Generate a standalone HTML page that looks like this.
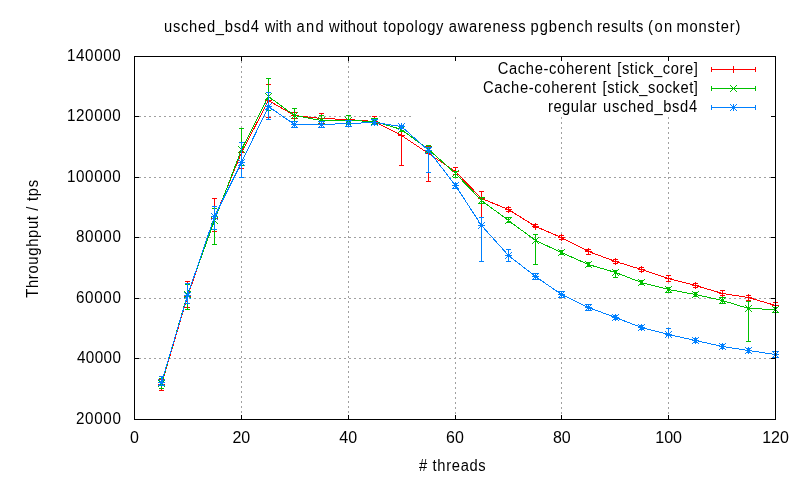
<!DOCTYPE html>
<html><head><meta charset="utf-8"><style>html,body{margin:0;padding:0;background:#fff;width:800px;height:480px;overflow:hidden}</style></head>
<body><svg width="800" height="480" viewBox="0 0 800 480" style="display:block;will-change:transform"><line x1="139" y1="358.5" x2="771" y2="358.5" stroke="#a0a0a0" stroke-dasharray="2 3"/>
<line x1="139" y1="298.5" x2="771" y2="298.5" stroke="#a0a0a0" stroke-dasharray="2 3"/>
<line x1="139" y1="237.5" x2="771" y2="237.5" stroke="#a0a0a0" stroke-dasharray="2 3"/>
<line x1="139" y1="177.5" x2="771" y2="177.5" stroke="#a0a0a0" stroke-dasharray="2 3"/>
<line x1="139" y1="116.5" x2="412" y2="116.5" stroke="#a0a0a0" stroke-dasharray="2 3"/>
<line x1="241.5" y1="61" x2="241.5" y2="415" stroke="#a0a0a0" stroke-dasharray="2 3"/>
<line x1="348.5" y1="61" x2="348.5" y2="415" stroke="#a0a0a0" stroke-dasharray="2 3"/>
<line x1="455.5" y1="117" x2="455.5" y2="415" stroke="#a0a0a0" stroke-dasharray="2 3"/>
<line x1="561.5" y1="117" x2="561.5" y2="415" stroke="#a0a0a0" stroke-dasharray="2 3"/>
<line x1="668.5" y1="117" x2="668.5" y2="415" stroke="#a0a0a0" stroke-dasharray="2 3"/>
<text transform="translate(75.95,424) scale(0.95,1)" letter-spacing="0.697" font-family="Liberation Sans, sans-serif" font-size="16">20000</text>
<text transform="translate(76.90,363) scale(0.95,1)" letter-spacing="0.447" font-family="Liberation Sans, sans-serif" font-size="16">40000</text>
<text transform="translate(75.95,303) scale(0.95,1)" letter-spacing="0.697" font-family="Liberation Sans, sans-serif" font-size="16">60000</text>
<text transform="translate(75.95,242) scale(0.95,1)" letter-spacing="0.697" font-family="Liberation Sans, sans-serif" font-size="16">80000</text>
<text transform="translate(66.95,182) scale(0.95,1)" letter-spacing="0.653" font-family="Liberation Sans, sans-serif" font-size="16">100000</text>
<text transform="translate(66.95,121) scale(0.95,1)" letter-spacing="0.653" font-family="Liberation Sans, sans-serif" font-size="16">120000</text>
<text transform="translate(66.95,61) scale(0.95,1)" letter-spacing="0.653" font-family="Liberation Sans, sans-serif" font-size="16">140000</text>
<text x="134.5" y="443" text-anchor="middle" font-family="Liberation Sans, sans-serif" font-size="16">0</text>
<text x="241.33333333333331" y="443" text-anchor="middle" font-family="Liberation Sans, sans-serif" font-size="16">20</text>
<text x="348.16666666666663" y="443" text-anchor="middle" font-family="Liberation Sans, sans-serif" font-size="16">40</text>
<text x="455.0" y="443" text-anchor="middle" font-family="Liberation Sans, sans-serif" font-size="16">60</text>
<text x="561.8333333333333" y="443" text-anchor="middle" font-family="Liberation Sans, sans-serif" font-size="16">80</text>
<text x="668.6666666666666" y="443" text-anchor="middle" font-family="Liberation Sans, sans-serif" font-size="16">100</text>
<text x="775.5" y="443" text-anchor="middle" font-family="Liberation Sans, sans-serif" font-size="16">120</text>
<text transform="translate(163.98,32) scale(0.92,1)" letter-spacing="0.807" font-family="Liberation Sans, sans-serif" font-size="16">usched_bsd4</text>
<text transform="translate(264.75,32) scale(0.92,1)" letter-spacing="0.239" font-family="Liberation Sans, sans-serif" font-size="16">with</text>
<text transform="translate(296.58,32) scale(0.92,1)" letter-spacing="1.413" font-family="Liberation Sans, sans-serif" font-size="16">and</text>
<text transform="translate(329.00,32) scale(0.92,1)" letter-spacing="0.286" font-family="Liberation Sans, sans-serif" font-size="16">without</text>
<text transform="translate(383.30,32) scale(0.92,1)" letter-spacing="0.699" font-family="Liberation Sans, sans-serif" font-size="16">topology</text>
<text transform="translate(448.78,32) scale(0.92,1)" letter-spacing="0.772" font-family="Liberation Sans, sans-serif" font-size="16">awareness</text>
<text transform="translate(530.58,32) scale(0.92,1)" letter-spacing="1.036" font-family="Liberation Sans, sans-serif" font-size="16">pgbench</text>
<text transform="translate(596.88,32) scale(0.92,1)" letter-spacing="0.558" font-family="Liberation Sans, sans-serif" font-size="16">results</text>
<text transform="translate(648.08,32) scale(0.92,1)" letter-spacing="1.565" font-family="Liberation Sans, sans-serif" font-size="16">(on</text>
<text transform="translate(676.38,32) scale(0.92,1)" letter-spacing="0.913" font-family="Liberation Sans, sans-serif" font-size="16">monster)</text>
<text transform="translate(419.00,471) scale(0.92,1)" letter-spacing="0.731" font-family="Liberation Sans, sans-serif" font-size="16"># threads</text>
<text transform="translate(38,297.70) rotate(-90) scale(0.92,1)" letter-spacing="0.767" font-family="Liberation Sans, sans-serif" font-size="16">Throughput / tps</text>
<g stroke="#ff0000" fill="none" shape-rendering="crispEdges"><path d="M161.5 379.5V390.5M159.0 379.5h5M159.0 390.5h5"/><path d="M187.5 281.5V307.5M185.0 281.5h5M185.0 307.5h5"/><path d="M214.5 198.5V231.5M212.0 198.5h5M212.0 231.5h5"/><path d="M241.5 142.5V168.5M239.0 142.5h5M239.0 168.5h5"/><path d="M268.5 84.5V117.5M266.0 84.5h5M266.0 117.5h5"/><path d="M294.5 112.5V118.5M292.0 112.5h5M292.0 118.5h5"/><path d="M321.5 113.5V123.5M319.0 113.5h5M319.0 123.5h5"/><path d="M348.5 115.5V123.5M346.0 115.5h5M346.0 123.5h5"/><path d="M374.5 116.5V123.5M372.0 116.5h5M372.0 123.5h5"/><path d="M401.5 126.5V165.5M399.0 126.5h5M399.0 165.5h5"/><path d="M428.5 146.5V181.5M426.0 146.5h5M426.0 181.5h5"/><path d="M455.5 167.5V174.5M453.0 167.5h5M453.0 174.5h5"/><path d="M481.5 191.5V217.5M479.0 191.5h5M479.0 217.5h5"/><path d="M508.5 207.5V211.5M506.0 207.5h5M506.0 211.5h5"/><path d="M535.5 224.5V227.5M533.0 224.5h5M533.0 227.5h5"/><path d="M561.5 235.5V239.5M559.0 235.5h5M559.0 239.5h5"/><path d="M588.5 249.5V254.5M586.0 249.5h5M586.0 254.5h5"/><path d="M615.5 259.5V263.5M613.0 259.5h5M613.0 263.5h5"/><path d="M641.5 267.5V271.5M639.0 267.5h5M639.0 271.5h5"/><path d="M668.5 275.5V281.5M666.0 275.5h5M666.0 281.5h5"/><path d="M695.5 283.5V287.5M693.0 283.5h5M693.0 287.5h5"/><path d="M722.5 290.5V295.5M720.0 290.5h5M720.0 295.5h5"/><path d="M748.5 295.5V300.5M746.0 295.5h5M746.0 300.5h5"/><path d="M775.5 302.5V307.5M773.0 302.5h5M773.0 307.5h5"/><polyline points="161.5,384.5 187.5,296.5 214.5,218.5 241.5,152.5 268.5,100.5 294.5,115.5 321.5,118.5 348.5,119.5 374.5,121.5 401.5,135.5 428.5,153.5 455.5,171.5 481.5,198.5 508.5,209.5 535.5,226.5 561.5,237.5 588.5,251.5 615.5,261.5 641.5,269.5 668.5,278.5 695.5,285.5 722.5,293.5 748.5,297.5 775.5,305.5"/><path d="M158.0 384.5h7M161.5 381.0v7"/><path d="M184.0 296.5h7M187.5 293.0v7"/><path d="M211.0 218.5h7M214.5 215.0v7"/><path d="M238.0 152.5h7M241.5 149.0v7"/><path d="M265.0 100.5h7M268.5 97.0v7"/><path d="M291.0 115.5h7M294.5 112.0v7"/><path d="M318.0 118.5h7M321.5 115.0v7"/><path d="M345.0 119.5h7M348.5 116.0v7"/><path d="M371.0 121.5h7M374.5 118.0v7"/><path d="M398.0 135.5h7M401.5 132.0v7"/><path d="M425.0 153.5h7M428.5 150.0v7"/><path d="M452.0 171.5h7M455.5 168.0v7"/><path d="M478.0 198.5h7M481.5 195.0v7"/><path d="M505.0 209.5h7M508.5 206.0v7"/><path d="M532.0 226.5h7M535.5 223.0v7"/><path d="M558.0 237.5h7M561.5 234.0v7"/><path d="M585.0 251.5h7M588.5 248.0v7"/><path d="M612.0 261.5h7M615.5 258.0v7"/><path d="M638.0 269.5h7M641.5 266.0v7"/><path d="M665.0 278.5h7M668.5 275.0v7"/><path d="M692.0 285.5h7M695.5 282.0v7"/><path d="M719.0 293.5h7M722.5 290.0v7"/><path d="M745.0 297.5h7M748.5 294.0v7"/><path d="M772.0 305.5h7M775.5 302.0v7"/></g>
<g stroke="#00c000" fill="none" shape-rendering="crispEdges"><path d="M161.5 378.5V388.5M159.0 378.5h5M159.0 388.5h5"/><path d="M187.5 284.5V309.5M185.0 284.5h5M185.0 309.5h5"/><path d="M214.5 208.5V244.5M212.0 208.5h5M212.0 244.5h5"/><path d="M241.5 128.5V165.5M239.0 128.5h5M239.0 165.5h5"/><path d="M268.5 78.5V110.5M266.0 78.5h5M266.0 110.5h5"/><path d="M294.5 108.5V121.5M292.0 108.5h5M292.0 121.5h5"/><path d="M321.5 115.5V124.5M319.0 115.5h5M319.0 124.5h5"/><path d="M348.5 115.5V124.5M346.0 115.5h5M346.0 124.5h5"/><path d="M374.5 118.5V124.5M372.0 118.5h5M372.0 124.5h5"/><path d="M401.5 127.5V131.5M399.0 127.5h5M399.0 131.5h5"/><path d="M428.5 145.5V152.5M426.0 145.5h5M426.0 152.5h5"/><path d="M455.5 171.5V177.5M453.0 171.5h5M453.0 177.5h5"/><path d="M481.5 197.5V203.5M479.0 197.5h5M479.0 203.5h5"/><path d="M508.5 217.5V222.5M506.0 217.5h5M506.0 222.5h5"/><path d="M535.5 234.5V264.5M533.0 234.5h5M533.0 264.5h5"/><path d="M561.5 250.5V254.5M559.0 250.5h5M559.0 254.5h5"/><path d="M588.5 262.5V266.5M586.0 262.5h5M586.0 266.5h5"/><path d="M615.5 270.5V277.5M613.0 270.5h5M613.0 277.5h5"/><path d="M641.5 280.5V284.5M639.0 280.5h5M639.0 284.5h5"/><path d="M668.5 287.5V292.5M666.0 287.5h5M666.0 292.5h5"/><path d="M695.5 292.5V296.5M693.0 292.5h5M693.0 296.5h5"/><path d="M722.5 297.5V303.5M720.0 297.5h5M720.0 303.5h5"/><path d="M748.5 301.5V341.5M746.0 301.5h5M746.0 341.5h5"/><path d="M775.5 307.5V312.5M773.0 307.5h5M773.0 312.5h5"/><polyline points="161.5,383.5 187.5,294.5 214.5,220.5 241.5,149.5 268.5,96.5 294.5,115.5 321.5,120.5 348.5,120.5 374.5,121.5 401.5,129.5 428.5,149.5 455.5,173.5 481.5,200.5 508.5,220.5 535.5,240.5 561.5,252.5 588.5,264.5 615.5,272.5 641.5,282.5 668.5,289.5 695.5,294.5 722.5,300.5 748.5,308.5 775.5,309.5"/><path d="M158.0 380.0l7 7M158.0 387.0l7 -7"/><path d="M184.0 291.0l7 7M184.0 298.0l7 -7"/><path d="M211.0 217.0l7 7M211.0 224.0l7 -7"/><path d="M238.0 146.0l7 7M238.0 153.0l7 -7"/><path d="M265.0 93.0l7 7M265.0 100.0l7 -7"/><path d="M291.0 112.0l7 7M291.0 119.0l7 -7"/><path d="M318.0 117.0l7 7M318.0 124.0l7 -7"/><path d="M345.0 117.0l7 7M345.0 124.0l7 -7"/><path d="M371.0 118.0l7 7M371.0 125.0l7 -7"/><path d="M398.0 126.0l7 7M398.0 133.0l7 -7"/><path d="M425.0 146.0l7 7M425.0 153.0l7 -7"/><path d="M452.0 170.0l7 7M452.0 177.0l7 -7"/><path d="M478.0 197.0l7 7M478.0 204.0l7 -7"/><path d="M505.0 217.0l7 7M505.0 224.0l7 -7"/><path d="M532.0 237.0l7 7M532.0 244.0l7 -7"/><path d="M558.0 249.0l7 7M558.0 256.0l7 -7"/><path d="M585.0 261.0l7 7M585.0 268.0l7 -7"/><path d="M612.0 269.0l7 7M612.0 276.0l7 -7"/><path d="M638.0 279.0l7 7M638.0 286.0l7 -7"/><path d="M665.0 286.0l7 7M665.0 293.0l7 -7"/><path d="M692.0 291.0l7 7M692.0 298.0l7 -7"/><path d="M719.0 297.0l7 7M719.0 304.0l7 -7"/><path d="M745.0 305.0l7 7M745.0 312.0l7 -7"/><path d="M772.0 306.0l7 7M772.0 313.0l7 -7"/></g>
<g stroke="#0080ff" fill="none" shape-rendering="crispEdges"><path d="M161.5 376.5V385.5M159.0 376.5h5M159.0 385.5h5"/><path d="M187.5 283.5V303.5M185.0 283.5h5M185.0 303.5h5"/><path d="M214.5 206.5V229.5M212.0 206.5h5M212.0 229.5h5"/><path d="M241.5 142.5V177.5M239.0 142.5h5M239.0 177.5h5"/><path d="M268.5 92.5V119.5M266.0 92.5h5M266.0 119.5h5"/><path d="M294.5 121.5V127.5M292.0 121.5h5M292.0 127.5h5"/><path d="M321.5 121.5V127.5M319.0 121.5h5M319.0 127.5h5"/><path d="M348.5 120.5V126.5M346.0 120.5h5M346.0 126.5h5"/><path d="M374.5 119.5V124.5M372.0 119.5h5M372.0 124.5h5"/><path d="M401.5 125.5V128.5M399.0 125.5h5M399.0 128.5h5"/><path d="M428.5 147.5V172.5M426.0 147.5h5M426.0 172.5h5"/><path d="M455.5 183.5V188.5M453.0 183.5h5M453.0 188.5h5"/><path d="M481.5 217.5V261.5M479.0 217.5h5M479.0 261.5h5"/><path d="M508.5 249.5V261.5M506.0 249.5h5M506.0 261.5h5"/><path d="M535.5 273.5V279.5M533.0 273.5h5M533.0 279.5h5"/><path d="M561.5 291.5V297.5M559.0 291.5h5M559.0 297.5h5"/><path d="M588.5 304.5V310.5M586.0 304.5h5M586.0 310.5h5"/><path d="M615.5 315.5V319.5M613.0 315.5h5M613.0 319.5h5"/><path d="M641.5 325.5V329.5M639.0 325.5h5M639.0 329.5h5"/><path d="M668.5 328.5V335.5M666.0 328.5h5M666.0 335.5h5"/><path d="M695.5 338.5V342.5M693.0 338.5h5M693.0 342.5h5"/><path d="M722.5 344.5V348.5M720.0 344.5h5M720.0 348.5h5"/><path d="M748.5 348.5V352.5M746.0 348.5h5M746.0 352.5h5"/><path d="M775.5 351.5V357.5M773.0 351.5h5M773.0 357.5h5"/><polyline points="161.5,382.5 187.5,295.5 214.5,216.5 241.5,162.5 268.5,106.5 294.5,124.5 321.5,124.5 348.5,123.5 374.5,122.5 401.5,126.5 428.5,150.5 455.5,185.5 481.5,225.5 508.5,255.5 535.5,276.5 561.5,294.5 588.5,307.5 615.5,317.5 641.5,327.5 668.5,334.5 695.5,340.5 722.5,346.5 748.5,350.5 775.5,354.5"/><path d="M158.0 382.5h7M161.5 379.0v7"/><path d="M158.0 379.0l7 7M158.0 386.0l7 -7"/><path d="M184.0 295.5h7M187.5 292.0v7"/><path d="M184.0 292.0l7 7M184.0 299.0l7 -7"/><path d="M211.0 216.5h7M214.5 213.0v7"/><path d="M211.0 213.0l7 7M211.0 220.0l7 -7"/><path d="M238.0 162.5h7M241.5 159.0v7"/><path d="M238.0 159.0l7 7M238.0 166.0l7 -7"/><path d="M265.0 106.5h7M268.5 103.0v7"/><path d="M265.0 103.0l7 7M265.0 110.0l7 -7"/><path d="M291.0 124.5h7M294.5 121.0v7"/><path d="M291.0 121.0l7 7M291.0 128.0l7 -7"/><path d="M318.0 124.5h7M321.5 121.0v7"/><path d="M318.0 121.0l7 7M318.0 128.0l7 -7"/><path d="M345.0 123.5h7M348.5 120.0v7"/><path d="M345.0 120.0l7 7M345.0 127.0l7 -7"/><path d="M371.0 122.5h7M374.5 119.0v7"/><path d="M371.0 119.0l7 7M371.0 126.0l7 -7"/><path d="M398.0 126.5h7M401.5 123.0v7"/><path d="M398.0 123.0l7 7M398.0 130.0l7 -7"/><path d="M425.0 150.5h7M428.5 147.0v7"/><path d="M425.0 147.0l7 7M425.0 154.0l7 -7"/><path d="M452.0 185.5h7M455.5 182.0v7"/><path d="M452.0 182.0l7 7M452.0 189.0l7 -7"/><path d="M478.0 225.5h7M481.5 222.0v7"/><path d="M478.0 222.0l7 7M478.0 229.0l7 -7"/><path d="M505.0 255.5h7M508.5 252.0v7"/><path d="M505.0 252.0l7 7M505.0 259.0l7 -7"/><path d="M532.0 276.5h7M535.5 273.0v7"/><path d="M532.0 273.0l7 7M532.0 280.0l7 -7"/><path d="M558.0 294.5h7M561.5 291.0v7"/><path d="M558.0 291.0l7 7M558.0 298.0l7 -7"/><path d="M585.0 307.5h7M588.5 304.0v7"/><path d="M585.0 304.0l7 7M585.0 311.0l7 -7"/><path d="M612.0 317.5h7M615.5 314.0v7"/><path d="M612.0 314.0l7 7M612.0 321.0l7 -7"/><path d="M638.0 327.5h7M641.5 324.0v7"/><path d="M638.0 324.0l7 7M638.0 331.0l7 -7"/><path d="M665.0 334.5h7M668.5 331.0v7"/><path d="M665.0 331.0l7 7M665.0 338.0l7 -7"/><path d="M692.0 340.5h7M695.5 337.0v7"/><path d="M692.0 337.0l7 7M692.0 344.0l7 -7"/><path d="M719.0 346.5h7M722.5 343.0v7"/><path d="M719.0 343.0l7 7M719.0 350.0l7 -7"/><path d="M745.0 350.5h7M748.5 347.0v7"/><path d="M745.0 347.0l7 7M745.0 354.0l7 -7"/><path d="M772.0 354.5h7M775.5 351.0v7"/><path d="M772.0 351.0l7 7M772.0 358.0l7 -7"/></g>
<rect x="134.5" y="56.5" width="641" height="363" fill="none" stroke="#000"/>
<line x1="134" y1="358.5" x2="139" y2="358.5" stroke="#000"/>
<line x1="776" y1="358.5" x2="771" y2="358.5" stroke="#000"/>
<line x1="134" y1="298.5" x2="139" y2="298.5" stroke="#000"/>
<line x1="776" y1="298.5" x2="771" y2="298.5" stroke="#000"/>
<line x1="134" y1="237.5" x2="139" y2="237.5" stroke="#000"/>
<line x1="776" y1="237.5" x2="771" y2="237.5" stroke="#000"/>
<line x1="134" y1="177.5" x2="139" y2="177.5" stroke="#000"/>
<line x1="776" y1="177.5" x2="771" y2="177.5" stroke="#000"/>
<line x1="134" y1="116.5" x2="139" y2="116.5" stroke="#000"/>
<line x1="776" y1="116.5" x2="771" y2="116.5" stroke="#000"/>
<line x1="241.5" y1="420" x2="241.5" y2="415" stroke="#000"/>
<line x1="241.5" y1="56" x2="241.5" y2="61" stroke="#000"/>
<line x1="348.5" y1="420" x2="348.5" y2="415" stroke="#000"/>
<line x1="348.5" y1="56" x2="348.5" y2="61" stroke="#000"/>
<line x1="455.5" y1="420" x2="455.5" y2="415" stroke="#000"/>
<line x1="455.5" y1="56" x2="455.5" y2="61" stroke="#000"/>
<line x1="561.5" y1="420" x2="561.5" y2="415" stroke="#000"/>
<line x1="561.5" y1="56" x2="561.5" y2="61" stroke="#000"/>
<line x1="668.5" y1="420" x2="668.5" y2="415" stroke="#000"/>
<line x1="668.5" y1="56" x2="668.5" y2="61" stroke="#000"/>
<text transform="translate(497.68,74) scale(0.92,1)" letter-spacing="0.722" font-family="Liberation Sans, sans-serif" font-size="16">Cache-coherent</text>
<text transform="translate(617.28,74) scale(0.92,1)" letter-spacing="0.605" font-family="Liberation Sans, sans-serif" font-size="16">[stick_core]</text>
<g stroke="#ff0000"><path d="M711 69.5H756M711.5 67.0v5M755.5 67.0v5"/><path d="M730.0 69.5h7M733.5 66.0v7"/></g>
<text transform="translate(482.93,93) scale(0.92,1)" letter-spacing="0.722" font-family="Liberation Sans, sans-serif" font-size="16">Cache-coherent</text>
<text transform="translate(602.58,93) scale(0.92,1)" letter-spacing="0.587" font-family="Liberation Sans, sans-serif" font-size="16">[stick_socket]</text>
<g stroke="#00c000"><path d="M711 88.5H756M711.5 86.0v5M755.5 86.0v5"/><path d="M730.0 85.0l7 7M730.0 92.0l7 -7"/></g>
<text transform="translate(548.08,112) scale(0.92,1)" letter-spacing="0.511" font-family="Liberation Sans, sans-serif" font-size="16">regular</text>
<text transform="translate(603.08,112) scale(0.92,1)" letter-spacing="0.709" font-family="Liberation Sans, sans-serif" font-size="16">usched_bsd4</text>
<g stroke="#0080ff"><path d="M711 107.5H756M711.5 105.0v5M755.5 105.0v5"/><path d="M730.0 107.5h7M733.5 104.0v7"/><path d="M730.0 104.0l7 7M730.0 111.0l7 -7"/></g></svg></body></html>
